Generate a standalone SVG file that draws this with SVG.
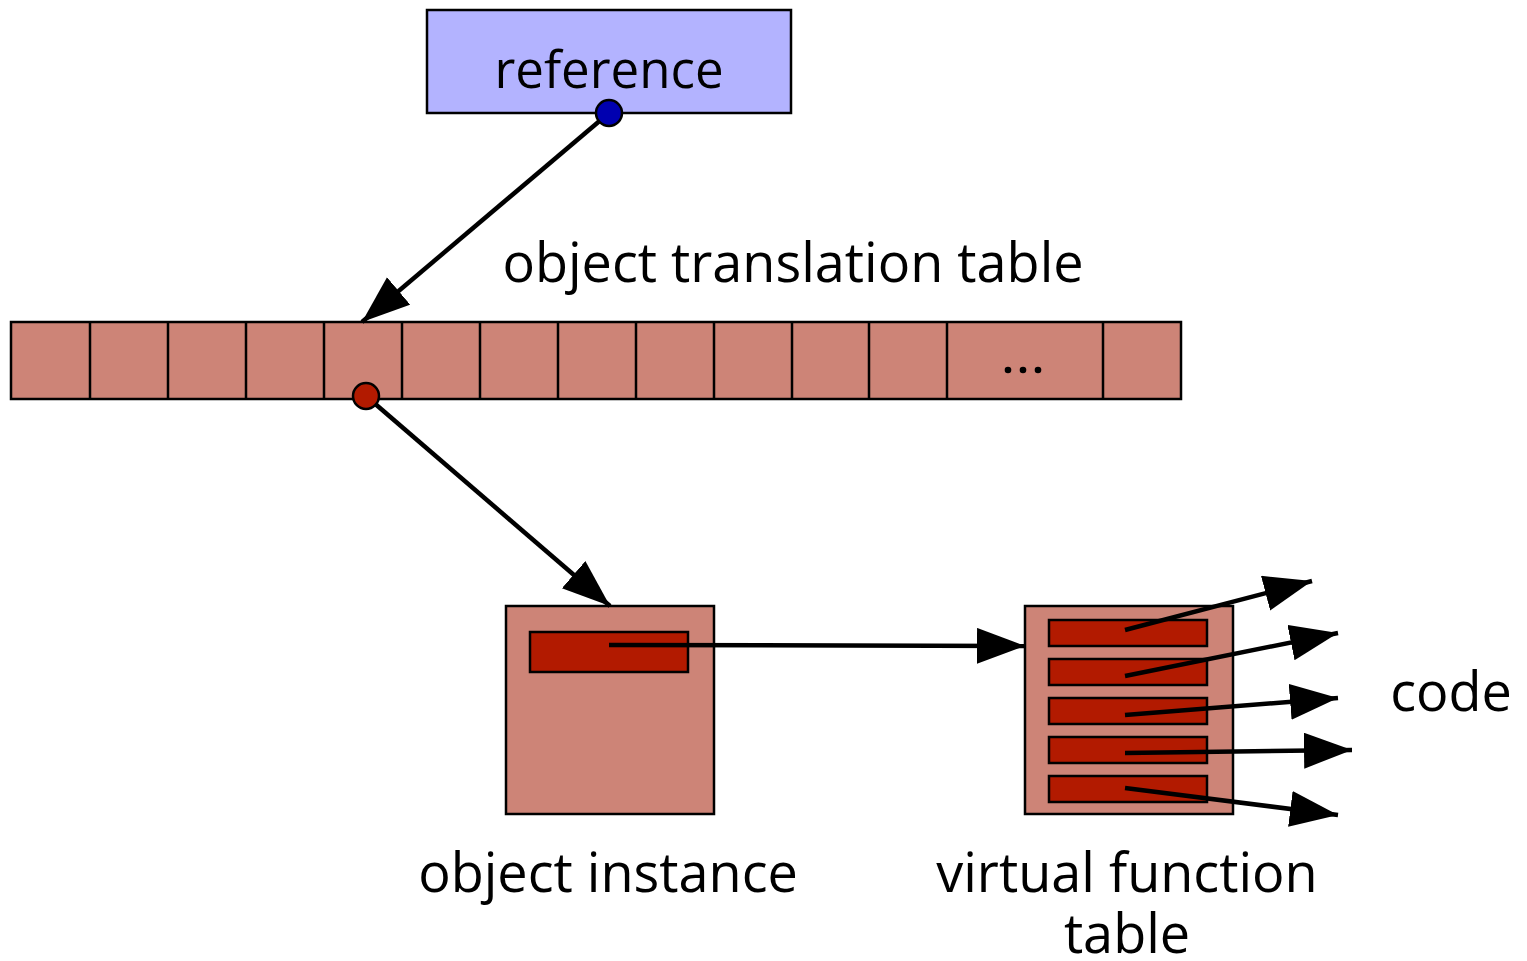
<svg xmlns="http://www.w3.org/2000/svg" width="1527" height="961" viewBox="0 0 1527 961">
  <defs>
    <style>
      .lbl { font-family: "Open Sans", "Liberation Sans", sans-serif; font-size: 54px; fill: #000; }
      .cell { fill: #cd8477; stroke: #000; stroke-width: 2.5; }
      .slot { fill: #b21a00; stroke: #000; stroke-width: 2.5; }
      .edge { fill: none; stroke: #000; stroke-width: 4.5; marker-end: url(#head); }
    </style>
    <marker id="head" markerUnits="userSpaceOnUse" markerWidth="52" markerHeight="38" refX="48" refY="18" orient="auto">
      <path d="M0,0 L48,18 L0,36 Z" fill="#000"/>
    </marker>
  </defs>

  <!-- reference handle -->
  <g id="reference">
    <rect x="427" y="10" width="364" height="103" fill="#b3b3ff" stroke="#000" stroke-width="2.5"/>
    <text class="lbl" x="609" y="88" text-anchor="middle" style="font-size:51px">reference</text>
  </g>

  <!-- object translation table -->
  <g id="translation-table">
    <rect class="cell" x="11" y="322" width="1170" height="77"/>
    <path d="M90,322V399 M168,322V399 M246,322V399 M324,322V399 M402,322V399 M480,322V399 M558,322V399 M636,322V399 M714,322V399 M792,322V399 M869,322V399 M947,322V399 M1103,322V399" stroke="#000" stroke-width="2.5" fill="none"/>
    <circle cx="1008" cy="370" r="3.3"/>
    <circle cx="1023" cy="370" r="3.3"/>
    <circle cx="1038" cy="370" r="3.3"/>
    <text class="lbl" x="793" y="282" text-anchor="middle">object translation table</text>
  </g>

  <!-- object instance -->
  <g id="object-instance">
    <rect class="cell" x="506" y="606" width="208" height="208"/>
    <rect class="slot" x="530" y="632" width="158" height="40"/>
    <text class="lbl" x="608" y="892" text-anchor="middle">object instance</text>
  </g>

  <!-- virtual function table -->
  <g id="vtable">
    <rect class="cell" x="1025" y="606" width="208" height="208"/>
    <rect class="slot" x="1049" y="620" width="158" height="26"/>
    <rect class="slot" x="1049" y="659" width="158" height="26"/>
    <rect class="slot" x="1049" y="698" width="158" height="26"/>
    <rect class="slot" x="1049" y="737" width="158" height="26"/>
    <rect class="slot" x="1049" y="776" width="158" height="26"/>
    <text class="lbl" x="1127" y="892" text-anchor="middle">virtual function</text>
    <text class="lbl" x="1127" y="953" text-anchor="middle">table</text>
  </g>

  <!-- code label -->
  <g id="code">
    <text class="lbl" x="1451" y="711" text-anchor="middle">code</text>
  </g>

  <!-- pointers -->
  <g id="connectors">
    <path class="edge" d="M609,113 L362,322"/>
    <path class="edge" d="M366,396 L610,606"/>
    <path class="edge" d="M609,645 L1025,646"/>
    <path class="edge" d="M1125,630 L1312,581"/>
    <path class="edge" d="M1125,676 L1338,633"/>
    <path class="edge" d="M1125,715 L1338,698"/>
    <path class="edge" d="M1125,753 L1352,750"/>
    <path class="edge" d="M1125,788 L1338,815"/>
  </g>

  <!-- pointer origins drawn over the lines -->
  <g id="origins">
    <circle cx="609" cy="113" r="13" fill="#0000b0" stroke="#000" stroke-width="2.5"/>
    <circle cx="366" cy="396" r="13" fill="#b21a00" stroke="#000" stroke-width="2.5"/>
  </g>
</svg>
